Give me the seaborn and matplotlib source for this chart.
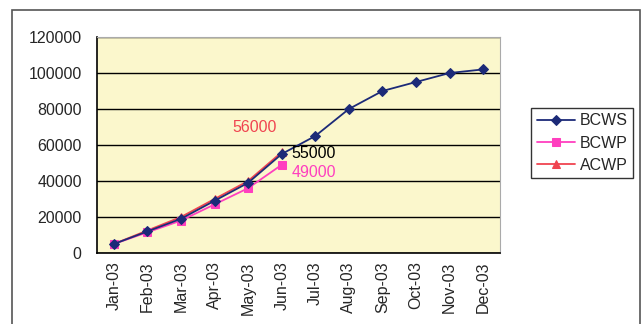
import matplotlib
matplotlib.use("Agg")
import matplotlib.pyplot as plt
import seaborn as sns
import pandas as pd
from matplotlib.patches import Rectangle

months = ["Jan-03", "Feb-03", "Mar-03", "Apr-03", "May-03", "Jun-03",
          "Jul-03", "Aug-03", "Sep-03", "Oct-03", "Nov-03", "Dec-03"]
bcws = [5000, 12000, 19000, 29000, 39000, 55000, 65000, 80000, 90000, 95000, 100000, 102000]
bcwp = [5000, 11500, 18000, 27000, 36000, 49000]
acwp = [5000, 12500, 20000, 30000, 40000, 56000]
y_ticks = [0, 20000, 40000, 60000, 80000, 100000, 120000]

sns.set_theme(style="white")
plt.rcParams["font.family"] = ["Liberation Sans", "DejaVu Sans"]
FS = 11.5

rows = []
for name, vals in (("BCWS", bcws), ("BCWP", bcwp), ("ACWP", acwp)):
    for i, v in enumerate(vals):
        rows.append({"pos": i, "value": v, "series": name})
df = pd.DataFrame(rows)

colors = {"BCWS": "#1c2a78", "BCWP": "#ff3fbf", "ACWP": "#f04450"}
markers = {"BCWS": "D", "BCWP": "s", "ACWP": "^"}
msize = {"BCWS": 5, "BCWP": 6, "ACWP": 6}

fig = plt.figure(figsize=(6.43, 3.24), dpi=100)
fig.patch.set_facecolor("white")
ax = fig.add_axes([97 / 643, 1 - 253 / 324, (500 - 97) / 643, (253 - 37) / 324])
ax.set_facecolor("#fbf7cc")

for name in ("ACWP", "BCWP", "BCWS"):
    sub = df[df["series"] == name]
    sns.lineplot(data=sub, x="pos", y="value", ax=ax, color=colors[name],
                 marker=markers[name], markersize=msize[name],
                 markeredgecolor=colors[name], linewidth=1.3, label=name,
                 legend=False, zorder=3 if name == "BCWS" else 2)

ax.set_xlim(-0.5, len(months) - 0.5)
ax.set_ylim(0, 120000)
ax.set_yticks(y_ticks)
ax.set_yticklabels([str(t) for t in y_ticks], fontsize=FS)
ax.set_xticks(range(len(months)))
ax.set_xticklabels(months, rotation=90, fontsize=FS)
ax.set_xticks([i - 0.5 for i in range(len(months) + 1)], minor=True)
ax.tick_params(axis="x", which="major", length=0, pad=6)
ax.tick_params(axis="x", which="minor", length=4, color="black", width=1, direction="out")
ax.tick_params(axis="y", length=5, color="black", width=1, direction="out", pad=6)
ax.set_xlabel("")
ax.set_ylabel("")
ax.yaxis.grid(True, color="black", linewidth=1)
ax.set_axisbelow(True)
for side in ("left", "bottom"):
    ax.spines[side].set_color("black")
    ax.spines[side].set_linewidth(1.2)
for side in ("top", "right"):
    ax.spines[side].set_color("#aaaaaa")
    ax.spines[side].set_linewidth(0.8)

# value callouts at the June status date
ax.text(4.2, acwp[5] + 14000, str(acwp[5]), color="#f04450", fontsize=FS, ha="center", va="center")
ax.text(5.3, bcws[5] - 0, str(bcws[5]), color="black", fontsize=FS, ha="left", va="center")
ax.text(5.3, bcwp[5] - 4500, str(bcwp[5]), color="#ff3fbf", fontsize=FS, ha="left", va="center")

handles, labels = ax.get_legend_handles_labels()
order = [labels.index(n) for n in ("BCWS", "BCWP", "ACWP")]
leg = fig.legend([handles[i] for i in order], [labels[i] for i in order],
                 loc="center left", bbox_to_anchor=(531 / 643, 1 - 143 / 324),
                 frameon=True, fancybox=False, fontsize=FS, handlelength=2.4,
                 borderpad=0.35, labelspacing=0.45, handletextpad=0.3,
                 borderaxespad=0)
leg.get_frame().set_edgecolor("black")
leg.get_frame().set_linewidth(1)

# outer chart border
fig.add_artist(Rectangle((12 / 643, -0.05), (640 - 12) / 643, 1 - 10 / 324 + 0.05,
                         transform=fig.transFigure, fill=False,
                         edgecolor="#555555", linewidth=1.2))

fig.savefig("out.png", dpi=100)
